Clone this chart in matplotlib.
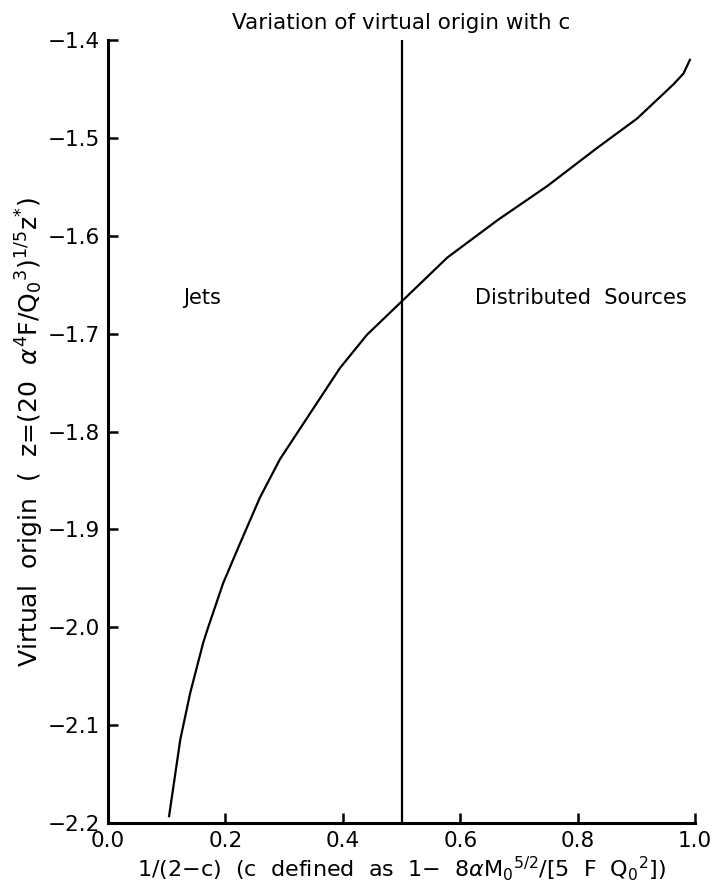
import matplotlib.pyplot as plt
import numpy as np

# values
inv_two_minus_c = [0.104, 0.123, 0.140, 0.162, 0.170, 0.196, 0.225, 0.259, 0.293,
                   0.350, 0.395, 0.441, 0.500, 0.578, 0.663, 0.748, 0.833, 0.901,
                   0.963, 0.980, 0.991]
virtual_origin = [-2.193, -2.115, -2.067, -2.016, -2.001, -1.955, -1.914, -1.867, -1.828,
                  -1.776, -1.735, -1.701, -1.667, -1.622, -1.584, -1.549, -1.510, -1.480,
                  -1.445, -1.434, -1.420]
divider_x = 0.5
x_ticks = [0.0, 0.2, 0.4, 0.6, 0.8, 1.0]
y_ticks = [-1.4, -1.5, -1.6, -1.7, -1.8, -1.9, -2.0, -2.1, -2.2]

plt.rcParams['font.family'] = ['DejaVu Sans']

fig = plt.figure(figsize=(7.13, 8.96), dpi=100)
ax = fig.add_axes([0.1515, 0.0815, 0.8235, 0.8735])

ax.plot(inv_two_minus_c, virtual_origin, color="black", lw=1.6)
ax.axvline(divider_x, color="black", lw=1.6)

ax.text(0.16, -1.663, "Jets", fontsize=15, ha="center", va="center")
ax.text(0.805, -1.663, "Distributed  Sources", fontsize=15, ha="center", va="center")

ax.set_xlim(0.0, 1.0)
ax.set_ylim(-2.2, -1.4)
ax.set_xticks(x_ticks)
ax.set_xticklabels(["%.1f" % v for v in x_ticks])
ax.set_yticks(y_ticks)
ax.set_yticklabels(["\u2212%.1f" % abs(v) for v in y_ticks])

for side in ["top", "right"]:
    ax.spines[side].set_visible(False)
for side in ["left", "bottom"]:
    ax.spines[side].set_linewidth(2.2)
ax.tick_params(direction="in", length=7, width=1.8, labelsize=15.5, pad=6)

ax.set_title("Variation of virtual origin with c", fontsize=15.5, pad=8)
ax.set_xlabel(r"1/(2$-$c)  (c  defined  as  1$-$  8$\alpha$M$_0$$^{5/2}$/[5  F  Q$_0$$^2$])",
              fontsize=16, labelpad=2)
ax.set_ylabel(r"Virtual  origin  (  z=(20  $\alpha^4$F/Q$_0$$^3$)$^{1/5}$z$^{*}$)",
              fontsize=18, labelpad=1)

fig.savefig("out.png", dpi=100)
